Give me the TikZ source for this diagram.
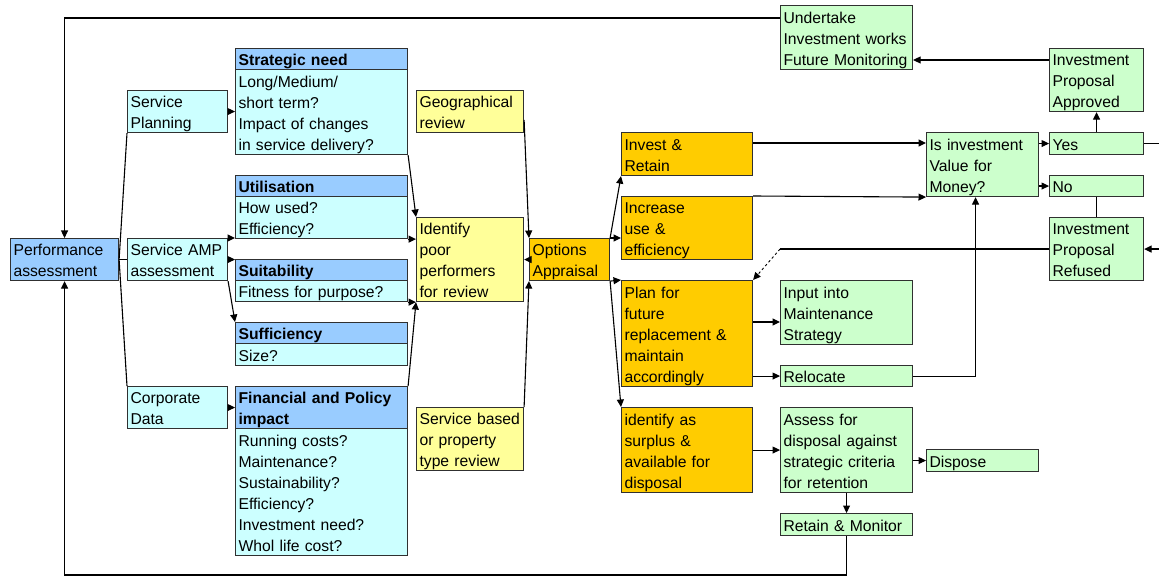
\documentclass[tikz,border=0pt]{standalone}
\usepackage{fontspec}
\setmainfont{Liberation Sans}
\usetikzlibrary{arrows.meta,calc}
\definecolor{cblue}{HTML}{99CCFF}
\definecolor{ccyan}{HTML}{CCFFFF}
\definecolor{cyell}{HTML}{FFFF99}
\definecolor{corng}{HTML}{FFCC00}
\definecolor{cgrn}{HTML}{CCFFCC}
\definecolor{bordc}{HTML}{303030}
\tikzset{
  boxst/.style={draw=bordc, line width=1.1pt, anchor=north west, rectangle,
    inner xsep=3pt, inner ysep=0pt, align=left,
    font=\fontsize{15.7}{21}\selectfont},
  arr/.style={draw=black, line width=1.1pt, -{Triangle[length=7.5pt,width=7pt]}},
  ln/.style={draw=black, line width=1.1pt},
  dsh/.style={draw=black, line width=0.9pt, dash pattern=on 2.5pt off 2.5pt, -{Triangle[length=7.5pt,width=7pt]}}
}
\newcommand\bxstrut{\vrule height 17pt depth 4pt width 0pt}
\newcommand\drawbox[7]{%
  \pgfmathsetmacro\bxw{#4-#2-6}%
  \pgfmathsetmacro\bxh{#5-#3}%
  \node[boxst, fill=#6, text width=\bxw pt, minimum height=\bxh pt] (#1) at (#2,#3) {\bxstrut #7\bxstrut};%
}
\begin{document}
\begin{tikzpicture}[x=1pt,y=-1pt]
\path[use as bounding box, fill=white] (0,0) rectangle (1159,577);
% left column
\drawbox{perf}{10}{238}{118}{280}{cblue}{Performance\\\bxstrut assessment}
\drawbox{sp}{127}{90}{227}{132}{ccyan}{Service\\\bxstrut Planning}
\drawbox{amp}{127}{238}{227}{280}{ccyan}{Service AMP\\\bxstrut assessment}
\drawbox{cd}{127}{386}{227}{428}{ccyan}{Corporate\\\bxstrut Data}
% criteria
\drawbox{snh}{235}{48}{407}{69}{cblue}{\bfseries Strategic need}
\drawbox{snb}{235}{69}{407}{154}{ccyan}{Long/Medium/\\\bxstrut short term?\\\bxstrut Impact of changes\\\bxstrut in service delivery?}
\drawbox{uh}{235}{175}{407}{196}{cblue}{\bfseries Utilisation}
\drawbox{ub}{235}{196}{407}{238}{ccyan}{How used?\\\bxstrut Efficiency?}
\drawbox{suh}{235}{259}{407}{280}{cblue}{\bfseries Suitability}
\drawbox{sub}{235}{280}{407}{301}{ccyan}{Fitness for purpose?}
\drawbox{sfh}{235}{322}{407}{343}{cblue}{\bfseries Sufficiency}
\drawbox{sfb}{235}{343}{407}{365}{ccyan}{Size?}
\drawbox{fh}{235}{386}{407}{428}{cblue}{\bfseries Financial and Policy\\\bxstrut impact}
\drawbox{fb}{235}{428}{407}{555}{ccyan}{Running costs?\\\bxstrut Maintenance?\\\bxstrut Sustainability?\\\bxstrut Efficiency?\\\bxstrut Investment need?\\\bxstrut Whol life cost?}
% yellow
\drawbox{geo}{416}{90}{523}{132}{cyell}{Geographical\\\bxstrut review}
\drawbox{idp}{416}{217}{523}{301}{cyell}{Identify\\\bxstrut poor\\\bxstrut performers\\\bxstrut for review}
\drawbox{sbr}{416}{407}{523}{470}{cyell}{Service based\\\bxstrut or property\\\bxstrut type review}
% orange
\drawbox{opt}{529}{238}{609}{280}{corng}{Options\\\bxstrut Appraisal}
\drawbox{inv}{621}{132}{752}{175}{corng}{Invest \&\\\bxstrut Retain}
\drawbox{inc}{621}{196}{752}{259}{corng}{Increase\\\bxstrut use \&\\\bxstrut efficiency}
\drawbox{plan}{621}{280}{752}{386}{corng}{Plan for\\\bxstrut future\\\bxstrut replacement \&\\\bxstrut maintain\\\bxstrut accordingly}
\drawbox{sur}{621}{407}{752}{492}{corng}{identify as\\\bxstrut surplus \&\\\bxstrut available for\\\bxstrut disposal}
% green
\drawbox{und}{780}{5}{912}{69}{cgrn}{Undertake\\\bxstrut Investment works\\\bxstrut Future Monitoring}
\drawbox{app}{1049}{48}{1143}{111}{cgrn}{Investment\\\bxstrut Proposal\\\bxstrut Approved}
\drawbox{isv}{926}{132}{1038}{196}{cgrn}{Is investment\\\bxstrut Value for\\\bxstrut Money?}
\drawbox{yes}{1049}{132}{1143}{154}{cgrn}{Yes}
\drawbox{no}{1049}{175}{1143}{196}{cgrn}{No}
\drawbox{ref}{1049}{217}{1143}{280}{cgrn}{Investment\\\bxstrut Proposal\\\bxstrut Refused}
\drawbox{inm}{780}{280}{912}{344}{cgrn}{Input into\\\bxstrut Maintenance\\\bxstrut Strategy}
\drawbox{rel}{780}{365}{912}{386}{cgrn}{Relocate}
\drawbox{ass}{780}{407}{912}{492}{cgrn}{Assess for\\\bxstrut disposal against\\\bxstrut strategic criteria\\\bxstrut for retention}
\drawbox{dis}{926}{449}{1038}{471}{cgrn}{Dispose}
\drawbox{ret}{780}{513}{912}{535}{cgrn}{Retain \& Monitor}
% helper coordinates
\coordinate (bot) at (0,575);
\coordinate (redge) at (1159,0);
% feedback loops
\draw[arr] ([yshift=-13pt]und.north west) -| (perf.north);
\draw[arr] (ret.south) |- (perf.south |- bot) -- (perf.south);
% left fan
\draw[ln] (perf.east) -- (amp.west);
\draw[ln] (perf.east) -- (sp.south west);
\draw[ln] (perf.east) -- (cd.north west);
\draw[arr] (sp.east) -- (sp.east -| snb.west);
\draw[arr] (amp.north east) -- (amp.north east -| ub.west);
\draw[arr] (amp.east) -- (amp.east -| suh.west);
\draw[arr] (amp.south east) -- (sfh.north west);
\draw[arr] (cd.east) -- (cd.east -| fh.west);
% into identify
\draw[arr] (snb.south east) -- (idp.north west);
\draw[arr] (ub.south east) -- (ub.south east -| idp.west);
\draw[arr] (sub.south east) -- (idp.south west);
\draw[arr] (fh.north east) -- (idp.south west);
% options
\draw[arr] ([yshift=-30pt]geo.north east) -- (opt.north west);
\draw[arr] (opt.west) -- (opt.west -| idp.east);
\draw[arr] (sbr.north east) -- (opt.south west);
\draw[arr] (opt.north east) -- (inv.south west);
\draw[arr] (opt.north east) -- (opt.north east -| inc.west);
\draw[arr] (opt.south east) -- (plan.north west);
\draw[arr] (opt.south east) -- (sur.north west);
% to value for money
\draw[arr] ([yshift=-11pt]inv.north east) -- ([yshift=-11pt]inv.north east -| isv.west);
\draw[arr] (inc.north east) -- (isv.south west);
\draw[ln] (ref.west) -- (ref.west -| inm.west);
\draw[dsh] (ref.west -| inm.west) -- (plan.north east);
\draw[arr] ([yshift=-42pt]inm.north west -| plan.east) -- ([yshift=-42pt]inm.north west);
\draw[arr] (rel.west -| plan.east) -- (rel.west);
\draw[arr] (rel.east) -| ([xshift=-7pt]isv.south);
\draw[arr] (sur.east) -- (sur.east -| ass.west);
\draw[arr] (dis.west -| ass.east) -- (dis.west);
\draw[arr] (ass.south) -- (ret.north);
% decision
\draw[arr] (yes.west -| isv.east) -- (yes.west);
\draw[arr] (no.west -| isv.east) -- (no.west);
\draw[arr] (yes.north) -- (app.south);
\draw[arr] ([yshift=-12pt]app.north west) -- ([yshift=-12pt]app.north west -| und.east);
\draw[ln] (no.south) -- (ref.north);
\draw[ln] (yes.east) -- (yes.east -| redge);
\draw[arr] (ref.east -| redge) -- (ref.east);
\end{tikzpicture}
\end{document}
